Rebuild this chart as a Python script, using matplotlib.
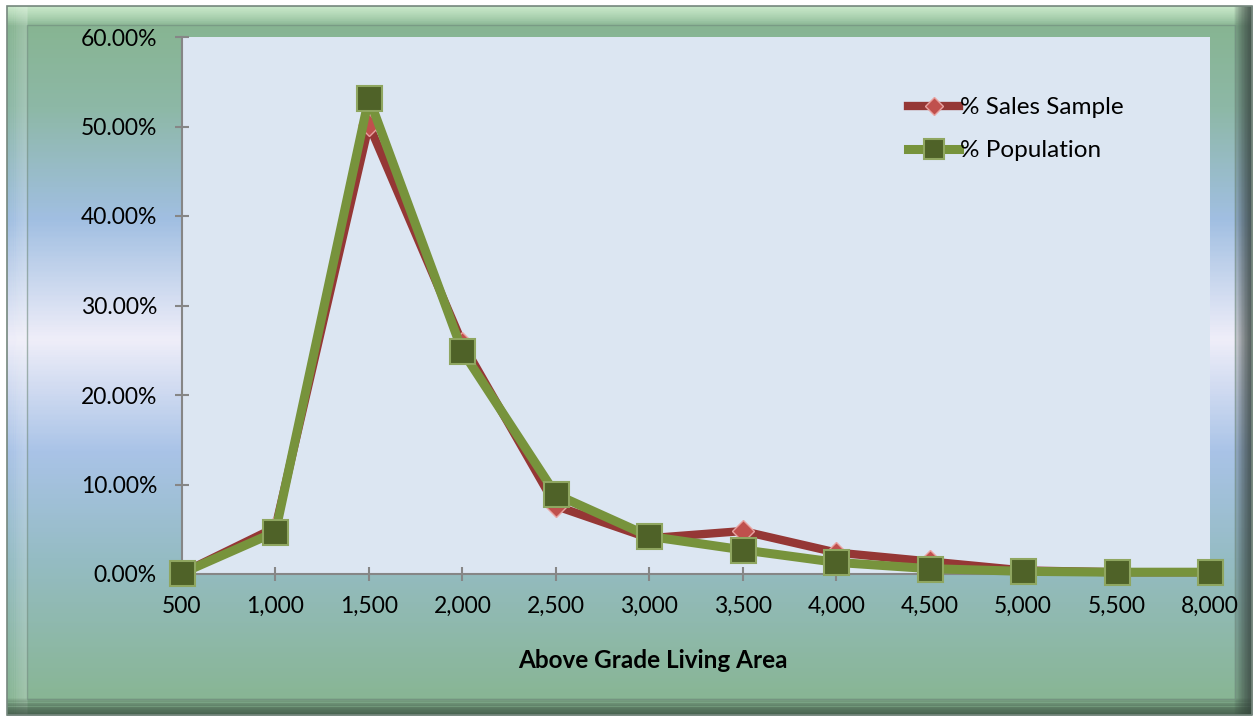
import numpy as np
import matplotlib.pyplot as plt
from matplotlib.colors import LinearSegmentedColormap
from matplotlib.patches import Rectangle
from matplotlib.ticker import FuncFormatter

#--------Data--------#
area_labels = ['500', '1,000', '1,500', '2,000', '2,500', '3,000',
               '3,500', '4,000', '4,500', '5,000', '5,500', '8,000']
pct_sales_sample = [0.1, 5.2, 50.2, 25.8, 7.6, 4.0, 4.8, 2.4, 1.4, 0.4, 0.2, 0.2]
pct_population = [0.1, 4.7, 53.2, 24.9, 8.9, 4.2, 2.7, 1.3, 0.6, 0.3, 0.2, 0.2]
#--------------------#

W, H = 1257, 721
FONT = 'Lato'
fig = plt.figure(figsize=(W / 100, H / 100), dpi=100)
fig.patch.set_facecolor('white')

# background gradient panel with bevelled frame
bg = fig.add_axes([0, 0, 1, 1])
bg.set_xlim(0, W)
bg.set_ylim(H, 0)
bg.axis('off')
grad_cmap = LinearSegmentedColormap.from_list('bg', [
    (0.00, '#86b48e'), (0.14, '#8db8a6'), (0.30, '#a1bfe2'),
    (0.47, '#efeef9'), (0.63, '#a9c3e7'), (0.78, '#95bcc4'),
    (1.00, '#87b58f')])
grad = np.linspace(0, 1, 400).reshape(-1, 1)
bg.imshow(grad, cmap=grad_cmap, aspect='auto', extent=(7, 1252, 715, 6),
          zorder=0)

# soft bevel strips
def strip(x0, y0, w, h, color, a0, a1, vertical):
    n = 30
    for i in range(n):
        a = a0 + (a1 - a0) * i / (n - 1)
        if vertical:
            r = Rectangle((x0 + w * i / n, y0), w / n + 0.5, h, facecolor=color,
                          alpha=a, lw=0, zorder=1)
        else:
            r = Rectangle((x0, y0 + h * i / n), w, h / n + 0.5, facecolor=color,
                          alpha=a, lw=0, zorder=1)
        bg.add_patch(r)

strip(7, 6, 1245, 20, '#d8f5d8', 0.55, 0.0, False)
strip(7, 6, 20, 709, '#ffffff', 0.0, 0.12, True)
strip(1234, 6, 18, 709, '#37433f', 0.05, 0.6, True)
strip(7, 698, 1245, 17, '#33463a', 0.05, 0.5, False)
bg.add_patch(Rectangle((27, 25), 1208, 674, facecolor='none', edgecolor='#708a7d',
                       lw=1.0, alpha=0.6, zorder=2))
bg.add_patch(Rectangle((7, 6), 1245, 709, facecolor='none', edgecolor='#76887e',
                       lw=1.2, zorder=2))

#--------Plot--------#
ax = fig.add_axes([182 / W, (H - 574) / H, (1210 - 182) / W, (574 - 37) / H])
ax.set_facecolor('#dce6f2')
x = np.arange(len(area_labels))

ax.plot(x, pct_sales_sample, color='#953735', lw=6, solid_joinstyle='round',
        marker='D', markersize=11, markerfacecolor='#c0504d',
        markeredgecolor='#e8a3a1', markeredgewidth=1, clip_on=False, zorder=3,
        label='% Sales Sample')
ax.plot(x, pct_population, color='#77933c', lw=6.5, solid_joinstyle='round',
        marker='s', markersize=18, markerfacecolor='#4f6228',
        markeredgecolor='#8fa660', markeredgewidth=1.5, clip_on=False, zorder=4,
        label='% Population')

ax.set_xlim(0, 11)
ax.set_ylim(0, 60)
ax.set_xticks(x)
ax.set_xticklabels(area_labels)
ax.set_yticks(np.arange(0, 61, 10))
ax.yaxis.set_major_formatter(FuncFormatter(lambda v, p: '%.2f%%' % v))

for s in ['top', 'right']:
    ax.spines[s].set_visible(False)
for s in ['left', 'bottom']:
    ax.spines[s].set_color('#868686')
    ax.spines[s].set_linewidth(1.5)
ax.tick_params(direction='inout', length=10, width=1.5, color='#868686',
               labelsize=16.5, labelcolor='black')
ax.tick_params(axis='x', pad=11)
ax.tick_params(axis='y', pad=13)
for lbl in ax.get_xticklabels() + ax.get_yticklabels():
    lbl.set_family(FONT)

fig.text(653 / W, 1 - 660 / H, 'Above Grade Living Area', ha='center',
         va='center', fontsize=17.5, fontweight='bold', family=FONT)

leg = ax.legend(loc='center left', bbox_to_anchor=(0.685, 0.828), frameon=False,
                handlelength=2.1, handletextpad=0.05, labelspacing=0.9,
                borderpad=0.4, markerscale=0.8,
                prop={'family': FONT, 'size': 17.5})
#--------------------#

fig.savefig('out.png', dpi=100)
